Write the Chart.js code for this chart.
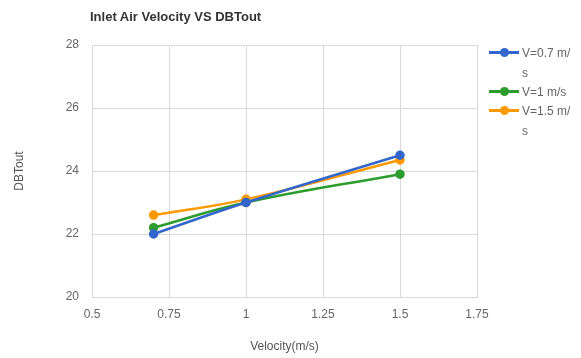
<!DOCTYPE html>
<html>
<head>
<meta charset="utf-8">
<script src="https://cdn.jsdelivr.net/npm/chart.js@4"></script>
<style>
    body { margin: 0; background: #fff; font-family: "Liberation Sans", Arial, sans-serif; }
    #wrap { position: relative; width: 581px; height: 358px; }
    #titulo { position: absolute; left: 90px; top: 9px; font-size: 13px; font-weight: bold; color: #333; }
    #legenda { position: absolute; left: 489px; top: 44px; font-size: 12px; color: #666; }
    .item { display: flex; align-items: flex-start; }
    .marca { position: relative; width: 30px; height: 18px; flex: none; }
    .marca .linha { position: absolute; left: 0; right: 0; top: 7px; height: 3px; }
    .marca .ponto { position: absolute; left: 11px; top: 4px; width: 9px; height: 9px; border-radius: 50%; }
    .texto { width: 50px; word-break: break-all; line-height: 20px; margin-left: 3px; margin-top: -1px; }
</style>
</head>
<body>
<div id="wrap">
    <canvas id="grafico" width="581" height="358"></canvas>
    <div id="titulo">Inlet Air Velocity VS DBTout</div>
    <div id="legenda"></div>
</div>
<script>
// Dados
const velocidades = [0.7, 1, 1.5];
const legendas = ['V=0.7 m/s', 'V=1 m/s', 'V=1.5 m/s'];
const serieV07 = [22.0, 23.0, 24.5];
const serieV1 = [22.2, 23.0, 23.9];
const serieV15 = [22.6, 23.1, 24.35];
const cores = ['#3366cc', '#2e9b2e', '#ff9900'];

document.addEventListener('DOMContentLoaded', () => {
    const series = [serieV07, serieV1, serieV15];
    const fonte = { size: 12, family: 'Liberation Sans' };

    const datasets = series.map((valores, i) => ({
        label: legendas[i],
        data: valores.map((y, j) => ({ x: velocidades[j], y: y })),
        borderColor: cores[i],
        backgroundColor: cores[i],
        borderWidth: 2.5,
        pointRadius: 3.5,
        pointHoverRadius: 3.5,
        tension: 0.4
    }));

    new Chart(document.getElementById('grafico'), {
        type: 'line',
        data: { datasets: datasets },
        options: {
            responsive: false,
            animation: false,
            layout: { padding: { top: 45, right: 104, left: 8, bottom: 0 } },
            plugins: {
                legend: { display: false },
                tooltip: { enabled: false }
            },
            scales: {
                x: {
                    type: 'linear',
                    min: 0.5,
                    max: 1.75,
                    ticks: { stepSize: 0.25, color: '#666', font: fonte, padding: 10, callback: (v) => String(v) },
                    grid: { color: '#d9d9d9', drawTicks: false },
                    border: { color: '#d9d9d9' },
                    title: { display: true, text: 'Velocity(m/s)', color: '#555', font: fonte },
                    afterFit: (s) => { s.height = 61; }
                },
                y: {
                    min: 20,
                    max: 28,
                    ticks: { stepSize: 2, color: '#666', font: fonte, padding: 13 },
                    grid: { color: '#d9d9d9', drawTicks: false },
                    border: { color: '#d9d9d9' },
                    title: { display: true, text: 'DBTout', color: '#555', font: fonte },
                    afterFit: (s) => { s.width = 84; }
                }
            }
        }
    });

    // Legenda em HTML para permitir a quebra de linha igual ao original
    const legenda = document.getElementById('legenda');
    legendas.forEach((texto, i) => {
        const item = document.createElement('div');
        item.className = 'item';
        item.innerHTML = `<div class="marca"><div class="linha" style="background:${cores[i]}"></div><div class="ponto" style="background:${cores[i]}"></div></div><div class="texto">${texto}</div>`;
        legenda.appendChild(item);
    });
});
</script>
</body>
</html>
